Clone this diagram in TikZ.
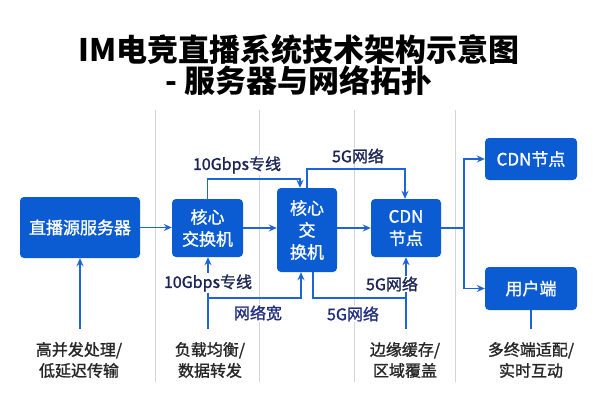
\documentclass[tikz,border=0pt]{standalone}
\usepackage{fontspec}
\setmainfont{Noto Sans CJK SC}
\newfontfamily\medfont[FakeBold=1.2]{Noto Sans CJK SC}
\usetikzlibrary{arrows.meta}
\definecolor{boxblue}{HTML}{0B5CD3}
\definecolor{lineblue}{HTML}{1E64D8}
\definecolor{navy}{HTML}{1B2455}
\definecolor{navyb}{HTML}{1F2E7E}
\definecolor{sepgray}{HTML}{D2D6DC}

\begin{document}
\begin{tikzpicture}[x=1pt, y=1pt,
  box/.style={fill=boxblue, rounded corners=4pt, text=white, align=center, inner sep=0pt, font=\medfont\fontsize{17}{22}\selectfont},
  link/.style={lineblue, line width=1.5pt, -{Stealth[length=8pt,width=7pt]}},
  wire/.style={lineblue, line width=1.5pt},
  lbl/.style={fill=white, inner sep=1pt, text=navy, font=\medfont\fontsize{16}{18}\selectfont},
  note/.style={align=center, text=black!85, font=\medfont\fontsize{16}{21}\selectfont}]
  \useasboundingbox (0,0) rectangle (600,400);
  % column separators
  \foreach \sx in {155,259,354,455} \draw[sepgray, line width=0.8pt] (\sx,18) -- (\sx,290);
  \node[font=\bfseries\fontsize{31}{30}\selectfont, align=center] (title) at (299,335) {IM电竞直播系统技术架构示意图\\- 服务器与网络拓扑};

  % servers and switches
  \node[box, minimum width=120, minimum height=61] (src) at (80,172.5) {直播源服务器};
  \node[box, minimum width=71, minimum height=58] (sw1) at (207.5,172) {核心\\交换机};
  \node[box, minimum width=60, minimum height=84] (sw2) at (307,170) {核心\\交\\换机};
  \node[box, minimum width=70, minimum height=58] (cdn) at (406,172) {CDN\\节点};
  \node[box, minimum width=92, minimum height=42] (edge) at (531,241) {CDN节点};
  \node[box, minimum width=92, minimum height=43] (user) at (531,111.5) {用户端};

  % main flow
  \draw[link] (src.east) -- (src.east -| sw1.west);
  \draw[link] (sw1.east) -- (sw1.east -| sw2.west);
  \draw[link] (cdn.west -| sw2.east) -- (cdn.west);
  \coordinate (fork) at (464,172);
  \draw[wire] (cdn.east) -- (fork);
  \draw[link] (fork) |- (edge.west);
  \draw[link] (fork) |- (user.west);

  % upper links
  \coordinate (t1) at (300,221);
  \coordinate (t2) at (405,231);
  \draw[link] (sw1.north) |- (t1) -- (t1 |- sw2.north);
  \draw[link] (sw2.north) |- (t2) -- (t2 |- cdn.north);

  % lower links
  \coordinate (b0) at (80,71);
  \coordinate (b1) at (208,71);
  \coordinate (b3) at (406,71);
  \coordinate (b4) at (531,71);
  \coordinate (j1) at (208,102);
  \coordinate (j2) at (406,102);
  \draw[link] (b0) -- (src.south);
  \draw[link] (b1) -- (b1 |- sw1.south);
  \draw[link] (j1) -| ([xshift=-6]sw2.south);
  \draw[wire] ([xshift=6]sw2.south) |- (j2);
  \draw[link] (b3) -- (b3 |- cdn.south);
  \draw[wire] (user) -- (b4);

  % link labels
  \node[lbl] (l10a) at (237,235) {10Gbps专线};
  \node[lbl] (l5a) at (358,244) {5G网络};
  \node[lbl] (l10b) at (208,117) {10Gbps专线};
  \node[lbl] (l5b) at (392,116) {5G网络};
  \node[lbl, text=navyb] (lwide) at (258,87) {网络宽};
  \node[lbl, text=navyb] (l5c) at (353,86) {5G网络};

  % notes
  \node[note] (n0) at (79,40) {高并发处理/\\低延迟传输};
  \node[note] (n1) at (210,40) {负载均衡/\\数据转发};
  \node[note] (n3) at (405,40) {边缘缓存/\\区域覆盖};
  \node[note] (n4) at (531,40) {多终端适配/\\实时互动};
\end{tikzpicture}
\end{document}
